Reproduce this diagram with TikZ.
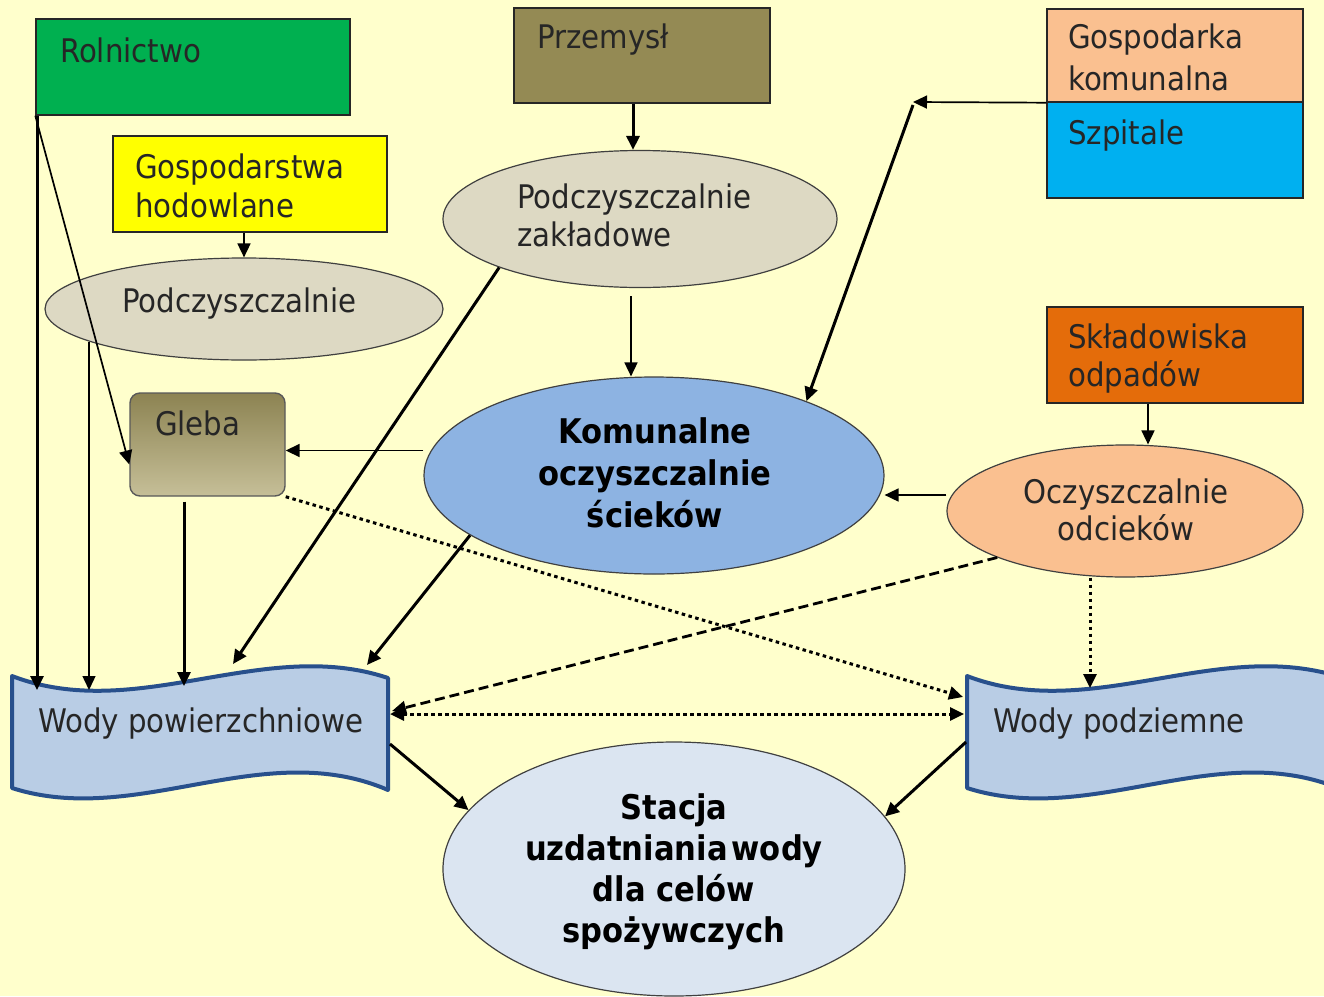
\documentclass[tikz,border=0pt]{standalone}
\usepackage{fontspec}
\setmainfont{DejaVu Sans Condensed}
\usetikzlibrary{arrows.meta,shapes.geometric,calc}
\definecolor{bg}{HTML}{FFFFCC}
\definecolor{rolc}{HTML}{00B050}
\definecolor{przc}{HTML}{948A54}
\definecolor{gospc}{HTML}{FAC090}
\definecolor{szpc}{HTML}{00B0F0}
\definecolor{hodc}{HTML}{FFFF00}
\definecolor{sklc}{HTML}{E46C0A}
\definecolor{podc}{HTML}{DDD9C3}
\definecolor{komc}{HTML}{8DB3E2}
\definecolor{odcc}{HTML}{FAC090}
\definecolor{stc}{HTML}{DBE5F1}
\definecolor{wavefill}{HTML}{B9CDE5}
\definecolor{wavedraw}{HTML}{28508C}
\definecolor{glebatop}{HTML}{8C8352}
\definecolor{glebabot}{HTML}{C6BF98}
\tikzset{
  box/.style={rectangle, draw=black!85, line width=1.4pt, inner sep=0pt},
  ell/.style={ellipse, draw=black!75, line width=1.2pt, inner sep=0pt},
  lbl/.style={font=\fontsize{32.5}{39}\selectfont, text=black!85, inner sep=0pt, align=left, anchor=base west},
  blbl/.style={font=\fontsize{34}{42}\selectfont\bfseries, inner sep=0pt, align=center, anchor=base},
  tip/.style={-{Triangle[length=14pt,width=13pt]}},
  conthin/.style={line width=1.7pt, tip},
  conthick/.style={line width=3pt, tip},
  condot/.style={line width=3pt, dash pattern=on 3.5pt off 3.5pt},
  condash/.style={line width=2.8pt, dash pattern=on 10pt off 5pt, tip},
  wave/.style={draw=wavedraw, fill=wavefill, line width=4pt, line join=round}
}
\begin{document}
\begin{tikzpicture}[x=1pt,y=-1pt]
\useasboundingbox (0,0) rectangle (1324,996);
\clip (0,0) rectangle (1324,996);
\fill[bg] (0,0) rectangle (1324,996);

% rectangles
\node[box, fill=rolc, minimum width=314pt, minimum height=96pt] (rol) at (193,67) {};
\node[box, fill=przc, minimum width=256pt, minimum height=95pt] (prz) at (642,55.5) {};
\node[box, fill=gospc, minimum width=256pt, minimum height=93pt] (gosp) at (1175,55.5) {};
\node[box, fill=szpc, minimum width=256pt, minimum height=96pt] (szp) at (1175,150) {};
\node[box, fill=hodc, minimum width=274pt, minimum height=96pt] (hod) at (250,184) {};
\node[box, fill=sklc, minimum width=256pt, minimum height=96pt] (skl) at (1175,355) {};
\node[rectangle, rounded corners=10pt, draw=black!65, line width=1.4pt, top color=glebatop, bottom color=glebabot, minimum width=155pt, minimum height=103pt, inner sep=0pt] (gleba) at (207.5,444.5) {};

% ellipses
\node[ell, fill=podc, minimum width=398pt, minimum height=102pt] (podl) at (244,309) {};
\node[ell, fill=podc, minimum width=394pt, minimum height=137pt] (podz) at (640,219) {};
\node[ell, fill=komc, minimum width=460pt, minimum height=197pt] (kom) at (654,475.5) {};
\node[ell, fill=odcc, minimum width=356pt, minimum height=132pt] (odc) at (1125,511) {};
\node[ell, fill=stc, minimum width=462pt, minimum height=254pt] (st) at (674,869) {};

% wave shapes
\draw[wave] (12,676) .. controls (137,724) and (263,636) .. (388,678) -- (388,790)
  .. controls (263,736) and (137,828) .. (12,788) -- cycle;
\draw[wave] (967,676) .. controls (1092,724) and (1218,636) .. (1343,678) -- (1343,790)
  .. controls (1218,736) and (1092,828) .. (967,788) -- cycle;

% texts (multi-line nodes: base = last line)
\node[lbl] (t-rol) at (60,62) {Rolnictwo};
\node[lbl] (t-prz) at (537,48) {Przemysł};
\node[lbl, font=\fontsize{32.5}{42}\selectfont] (t-gosp) at (1068,90) {Gospodarka\\komunalna};
\node[lbl] (t-szp) at (1068,144) {Szpitale};
\node[lbl] (t-hod) at (135,217) {Gospodarstwa\\hodowlane};
\node[lbl, font=\fontsize{32.5}{38}\selectfont] (t-skl) at (1068,386) {Składowiska\\odpadów};
\node[lbl] (t-podl) at (122,312) {Podczyszczalnie};
\node[lbl, font=\fontsize{32.5}{38}\selectfont] (t-podz) at (517,246) {Podczyszczalnie\\zakładowe};
\node[lbl] (t-gleba) at (155,435) {Gleba};
\node[lbl, align=center, anchor=base, font=\fontsize{32.5}{37}\selectfont] (t-odc) at (1126,540) {Oczyszczalnie\\odcieków};
\node[lbl] (t-wp) at (38,732) {Wody powierzchniowe};
\node[lbl] (t-wd) at (993,732) {Wody podziemne};
\node[blbl] (t-kom) at (655,527) {Komunalne\\oczyszczalnie\\ścieków};
\node[blbl, font=\fontsize{34}{41}\selectfont\bfseries] (t-st) at (674,942) {Stacja\\uzdatniania\hspace{0.12em}wody\\dla celów\\spożywczych};

% connector end points on the wave shapes
\coordinate (wp1) at (37,690);
\coordinate (wp2) at (89,690);
\coordinate (wp3) at (184,686);
\coordinate (wp4) at (233,664);
\coordinate (wp5) at (367,665);
\coordinate (wp6) at (392,711);
\coordinate (wp7) at (390,714);
\coordinate (wp8) at (390,744);
\coordinate (wd1) at (1090,688);
\coordinate (wd2) at (963,697);
\coordinate (wd3) at (964,714);
\coordinate (wd4) at (966,742);
\coordinate (j) at (913,102);
\coordinate (ge) at ([yshift=-6pt]gleba.east);
\coordinate (ow) at ([yshift=16pt]odc.west);
\coordinate (s1) at ([xshift=-27pt]skl.south);

% connectors
\draw[conthick] (rol.south west -| wp1) -- (wp1);
\draw[conthin] (rol.south west) -- ([yshift=-20pt]gleba.west);
\draw[conthin] (hod.south -| podl.north) -- (podl.north);
\draw[line width=1.4pt, tip] (podl.192 -| wp2) -- (wp2);
\draw[conthick] ([yshift=-5pt]gleba.south -| wp3) -- (wp3);
\draw[conthick] (podz.199) -- (wp4);
\draw[conthick] ([xshift=-9pt]prz.south) -- ([xshift=-7pt]podz.north);
\draw[conthin] ([xshift=-9pt,yshift=-8pt]podz.south) -- ([xshift=-23pt]kom.north);
\draw[conthin] (gosp.south west) -- (j);
\draw[conthick] ([yshift=-3pt]j) -- (kom.26);
\draw[conthin] (ge -| kom.west) -- (ge);
\draw[conthick] (kom.198) -- (wp5);
\draw[conthin] (ow) -- (ow -| kom.east);
\draw[conthin] (s1) -- (s1 |- odc.north);
\draw[condash] (odc.200) -- (wp6);
\draw[condot, tip] (odc.south -| wd1) -- (wd1);
\draw[condot, tip] (gleba.south east) -- (wd2);
\draw[condot, {Triangle[length=14pt,width=13pt]}-{Triangle[length=14pt,width=13pt]}] (wp7) -- (wd3);
\draw[conthick] (wp8) -- (st.164);
\draw[conthick] (wd4) -- (st.14);
\end{tikzpicture}
\end{document}
